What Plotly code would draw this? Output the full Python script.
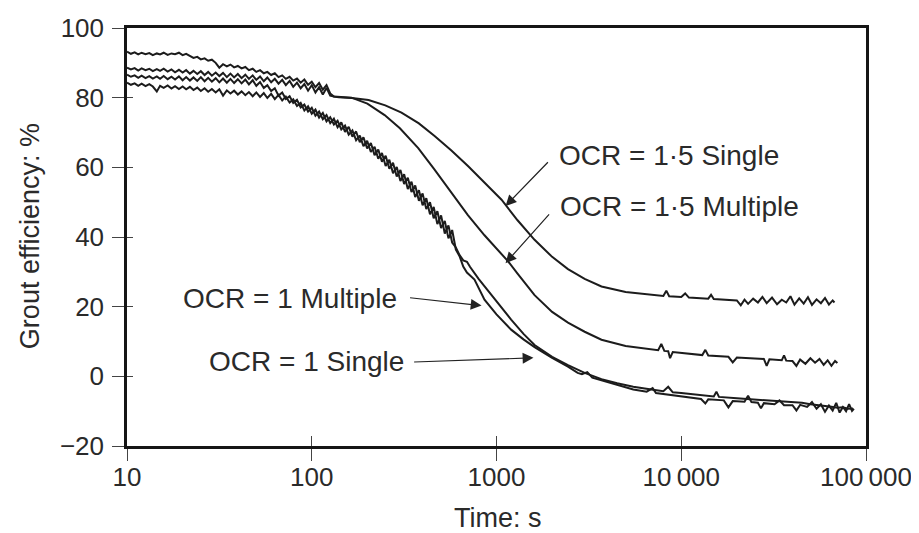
import numpy as np
import plotly.graph_objects as go

# ---- shared time grid for the noisy early part (s) ----
T_EARLY = [10, 10.5, 11, 11.5, 12, 12.6, 13.2, 13.8, 14.5, 15.1, 15.8, 16.6, 17.4, 18.2, 19.1,
           20, 20.9, 21.9, 22.9, 24, 25.1, 26.3, 27.5, 28.8, 30.2, 31.6, 33.1, 34.7, 36.3, 38,
           39.8, 41.7, 43.7, 45.7, 47.9, 50.1, 52.5, 55, 57.5, 60.3, 63.1, 66.1, 69.2, 72.4, 75.9,
           79.4, 83.2, 87.1, 91.2, 95.5, 100, 104.7, 109.6, 114.8, 120.2, 125.9, 131.8,
           138, 144.5, 151.4, 158.5, 166, 173.8, 182, 190.5, 199.5, 208.9, 218.8, 229.1, 239.9,
           251.2, 263, 275.4, 288.4, 302, 316.2, 331.1, 346.7, 363.1, 380.2, 398.1, 416.9, 436.5,
           457.1, 478.6, 501.2, 524.8, 549.5, 575.4, 602.6, 631, 660.7, 691.8]

# ---- OCR = 1.5 Single ----
S15_EARLY = [93.2, 92.6, 93.0, 92.4, 92.9, 92.5, 92.8, 92.2, 92.7, 92.4, 92.9, 92.3, 92.7, 92.5, 92.9,
             92.2, 92.6, 92.0, 91.4, 91.7, 91.0, 91.3, 90.6, 90.9, 90.0, 88.6, 89.6, 89.0, 89.5, 88.7,
             89.1, 88.4, 88.8, 87.9, 88.3, 87.4, 87.9, 87.0, 87.4, 86.5, 87.0, 85.9, 86.4, 85.4, 86.0,
             84.9, 85.5, 84.3, 85.2, 83.7, 84.6, 83.0, 84.2, 82.3, 83.6, 81.2, 80.3]
S15_LATE_T = [140, 165, 203, 250, 306, 380, 464, 570, 703, 860, 1065, 1300, 1607, 2000, 2437, 3000,
              3700, 5000, 6890, 8000, 8300, 8600, 10000, 10500, 11000, 14000, 14500, 15000, 20000,
              21000, 22000, 23000, 24500, 26000, 27500, 29000, 31000, 33000, 35000, 37000, 39000,
              41000, 43500, 46000, 48500, 51000, 54000, 57000, 60000, 63000, 66000, 67500]
S15_LATE_V = [80.1, 79.9, 79.3, 77.8, 75.7, 72.6, 68.9, 64.8, 60.3, 55.5, 50.7, 44.8, 39.2, 34.3, 30.8,
              28.0, 25.8, 24.2, 23.4, 23.1, 24.6, 23.0, 22.8, 23.8, 22.6, 22.3, 23.4, 22.2, 21.8,
              20.4, 22.0, 20.8, 22.3, 21.2, 22.8, 21.0, 22.6, 20.7, 22.0, 21.2, 23.0, 20.6, 22.4,
              20.9, 22.7, 20.5, 22.1, 21.0, 22.5, 20.6, 21.8, 21.2]

# ---- OCR = 1.5 Multiple ----
M15_EARLY = [88.6, 88.1, 88.5, 87.8, 88.4, 87.9, 88.3, 87.6, 88.2, 87.7, 88.3, 87.5, 88.1, 87.3, 88.0,
             87.2, 87.9, 86.9, 87.7, 86.8, 87.6, 86.5, 87.4, 86.3, 87.2, 86.2, 87.1, 85.9, 86.9, 85.8,
             86.8, 85.6, 86.6, 85.4, 86.4, 85.1, 86.1, 84.7, 85.8, 84.4, 85.4, 84.0, 85.1, 83.6, 84.8,
             83.1, 84.3, 82.7, 83.9, 82.0, 83.6, 81.5, 83.0, 80.9, 82.8, 80.6, 80.3]
M15_LATE_T = [140, 164, 200, 248, 300, 377, 460, 571, 700, 861, 1000, 1156, 1300, 1607, 2000, 2437,
              3000, 3700, 5000, 6890, 7500, 7800, 8100, 8500, 8700, 9000, 10000, 12000, 13000, 13500,
              14000, 18000, 19000, 20000, 26000, 28000, 29000, 30000, 35000, 36000, 37000, 40000,
              42000, 44000, 47000, 50000, 53000, 56000, 59000, 62000, 65000, 68000, 70000]
M15_LATE_V = [80.2, 80.0, 78.3, 75.0, 71.2, 65.5, 59.5, 52.7, 46.3, 40.5, 36.6, 33.0, 29.5, 23.3, 18.5,
              15.4, 12.8, 10.5, 8.7, 7.7, 7.5, 9.3, 7.3, 7.2, 5.2, 7.0, 6.8, 6.3, 6.1, 7.6,
              6.0, 5.6, 4.0, 5.4, 5.0, 5.0, 3.0, 4.9, 4.6, 6.0, 4.5, 4.4,
              3.0, 4.8, 3.6, 5.2, 3.9, 5.0, 3.3, 4.6, 3.0, 4.4, 3.8]

# ---- OCR = 1 Multiple ----
M1_EARLY = [86.6, 86.0, 86.4, 85.7, 86.3, 85.6, 86.2, 85.5, 86.1, 85.4, 86.2, 85.3, 86.0, 85.2, 86.1,
            85.0, 85.9, 84.9, 85.8, 84.8, 85.9, 84.7, 85.7, 84.6, 85.6, 84.4, 85.5, 84.3, 85.4, 84.2,
            85.3, 84.1, 85.2, 83.8, 85.0, 83.4, 84.5, 82.8, 83.6, 81.9, 82.7, 80.6, 81.5, 79.6, 80.4,
            78.5, 79.4, 77.2, 78.0, 76.0, 77.1, 74.8, 76.0, 73.8, 75.0, 72.7, 74.0,
            71.5, 72.9, 70.2, 71.6, 68.8, 70.3, 67.2, 68.6, 65.4, 67.0, 63.5, 65.1, 61.6, 63.3,
            59.6, 61.3, 57.4, 59.2, 55.2, 57.0, 52.9, 54.8, 50.4, 52.5, 48.0, 50.0, 45.4, 47.4,
            42.6, 44.6, 39.6, 42.0, 36.4, 34.5, 31.5, 29.8]
M1_LATE_T = [760, 861, 1000, 1200, 1400, 1607, 2000, 2437, 2750, 2900, 3100, 3300, 3700, 4500, 5500,
             6500, 7000, 7300, 9000, 10000, 12800, 13500, 14000, 17000, 18000, 19000, 22000, 23000,
             24000, 26000, 27000, 28000, 32000, 34000, 36000, 40000, 42000, 44000, 48000, 51000,
             54000, 57000, 60000, 63000, 66000, 69000, 72000, 75000, 78000, 81000, 84000, 86000]
M1_LATE_V = [27.8, 22.0, 17.8, 13.4, 10.6, 8.4, 5.3, 2.8, 1.0, 0.6, 1.2, -0.4, -1.2, -2.6, -3.8,
             -4.4, -3.4, -4.8, -5.4, -5.6, -6.5, -7.8, -6.6, -6.9, -8.9, -7.1, -7.3, -5.6,
             -7.4, -7.6, -9.2, -7.7, -8.0, -6.9, -8.3, -8.3, -9.8, -8.2, -8.8, -7.4,
             -9.3, -8.0, -10.2, -8.4, -9.8, -7.6, -10.4, -8.8, -10.0, -8.0, -9.9, -9.3]

# ---- OCR = 1 Single ----
S1_EARLY = [84.3, 83.7, 84.1, 83.4, 84.0, 83.3, 83.9, 83.2, 81.8, 83.4, 82.8, 83.5, 82.6, 83.3, 82.5,
            83.2, 82.4, 83.1, 82.2, 82.9, 81.9, 82.7, 81.7, 82.5, 81.5, 82.4, 80.6, 82.1, 81.2, 82.0,
            80.9, 81.8, 80.7, 81.6, 80.4, 81.5, 80.2, 81.3, 79.9, 81.1, 79.6, 80.8, 79.2, 80.3, 78.6,
            79.5, 77.6, 78.5, 76.3, 77.5, 75.4, 76.6, 74.3, 75.6, 73.2, 74.4, 72.3,
            73.4, 70.9, 72.0, 69.4, 70.6, 67.8, 69.1, 66.1, 67.6, 64.4, 65.9, 62.5, 64.1, 60.4,
            62.2, 58.3, 60.1, 56.1, 58.0, 53.8, 55.9, 51.5, 53.4, 49.1, 51.1, 46.5, 48.6, 43.7,
            46.2, 41.0, 43.3, 38.4, 37.0, 34.8, 33.3, 32.9]
S1_LATE_T = [720, 800, 900, 1000, 1200, 1400, 1607, 2000, 2437, 3000, 3700, 4500, 5500, 6890, 8000,
             8500, 9000, 10000, 12000, 15000, 15500, 16000, 20000, 25000, 30000, 37700, 45000,
             50000, 55000, 60000, 65000, 70000, 75000, 80000, 85000]
S1_LATE_V = [31.4, 28.0, 24.6, 21.4, 16.3, 12.2, 9.0, 5.6, 3.2, 1.0, -0.8, -2.0, -3.0, -3.8, -4.3,
             -3.0, -4.6, -4.8, -5.2, -5.8, -4.4, -5.9, -6.3, -6.6, -6.9, -7.2, -7.6,
             -8.0, -8.2, -8.4, -8.7, -9.0, -8.9, -9.3, -9.2]

X_TICKS = [10, 100, 1000, 10000, 100000]
X_TICK_TEXT = ["10", "100", "1000", "10\u2009000", "100\u2009000"]
Y_TICKS = [-20, 0, 20, 40, 60, 80, 100]
Y_TICK_TEXT = ["\u221220", "0", "20", "40", "60", "80", "100"]
X_TITLE = "Time: s"
Y_TITLE = "Grout efficiency: %"

N15 = 57
series = [
    ("OCR = 1·5 Single", T_EARLY[:N15] + S15_LATE_T, S15_EARLY + S15_LATE_V),
    ("OCR = 1·5 Multiple", T_EARLY[:N15] + M15_LATE_T, M15_EARLY + M15_LATE_V),
    ("OCR = 1 Multiple", T_EARLY + M1_LATE_T, M1_EARLY + M1_LATE_V),
    ("OCR = 1 Single", T_EARLY + S1_LATE_T, S1_EARLY + S1_LATE_V),
]

LINE = "#1c1c1c"
FONT = "Liberation Sans, Arial, sans-serif"
TXT = "#2a2a2a"

fig = go.Figure()
for name, xs, ys in series:
    fig.add_trace(go.Scatter(x=xs, y=ys, mode="lines", name=name,
                             line=dict(color=LINE, width=2), showlegend=False))
# helper invisible trace for the overlay axes (inside tick marks)
fig.add_trace(go.Scatter(x=[X_TICKS[0]], y=[Y_TICKS[0]], xaxis="x2", yaxis="y2",
                         mode="markers", marker=dict(opacity=0), showlegend=False,
                         hoverinfo="skip"))

# annotations: (label, text anchor t, text anchor v, xanchor, tail t, tail v, tip t, tip v)
labels = [
    ("OCR = 1·5 Single", 10**3.33, 63.4, "left", 10**3.286, 61.9, 10**3.049, 48.9),
    ("OCR = 1·5 Multiple", 10**3.335, 48.9, "left", 10**3.292, 46.9, 10**3.049, 32.5),
    ("OCR = 1 Multiple", 10**2.47, 22.3, "right", 10**2.524, 22.6, 10**2.919, 20.3),
    ("OCR = 1 Single", 10**2.508, 4.4, "right", 10**2.546, 4.1, 10**3.2, 5.3),
]
for text, tx, ty, xa, ax_, ay_, px_, py_ in labels:
    fig.add_annotation(x=np.log10(tx), y=ty, text=text, showarrow=False, xanchor=xa,
                       yanchor="middle", font=dict(family=FONT, size=28, color=TXT))
    fig.add_annotation(x=np.log10(px_), y=py_, ax=np.log10(ax_), ay=ay_, axref="x", ayref="y",
                       text="", showarrow=True, arrowhead=2, arrowsize=1.8, arrowwidth=1.2,
                       arrowcolor="#222")

# axis titles as paper-positioned texts
fig.add_annotation(xref="paper", yref="paper", x=0.502, y=-0.172, text=X_TITLE,
                   showarrow=False, xanchor="center", yanchor="middle",
                   font=dict(family=FONT, size=27, color=TXT))
fig.add_annotation(xref="paper", yref="paper", x=-0.1313, y=0.502, text=Y_TITLE,
                   textangle=-90, showarrow=False, xanchor="center", yanchor="middle",
                   font=dict(family=FONT, size=27, color=TXT))

fig.update_layout(
    width=903, height=525,
    margin=dict(l=119, r=45, t=20, b=87),
    paper_bgcolor="white", plot_bgcolor="white",
    font=dict(family=FONT, size=26, color=TXT),
    xaxis=dict(type="log", range=[1, 5], tickvals=X_TICKS, ticktext=X_TICK_TEXT,
               ticks="outside", ticklen=12, tickwidth=1, tickcolor="#444",
               showline=True, linewidth=3, linecolor="#151515", mirror=True,
               showgrid=False, zeroline=False, ticklabelstandoff=-6,
               ticklabeloverflow="allow", automargin=False,
               tickfont=dict(size=26)),
    yaxis=dict(range=[-20, 100], tickvals=Y_TICKS, ticktext=Y_TICK_TEXT,
               ticks="outside", ticklen=12, tickwidth=1, tickcolor="#444",
               showline=True, linewidth=2.5, linecolor="#151515", mirror=True,
               showgrid=False, zeroline=False, ticklabelstandoff=3,
               ticklabeloverflow="allow", automargin=False,
               tickfont=dict(size=26)),
    xaxis2=dict(type="log", range=[1, 5], tickvals=X_TICKS, showticklabels=False,
                overlaying="x", anchor="y", side="bottom", ticks="inside", ticklen=10,
                tickwidth=1, tickcolor="#444", showgrid=False, zeroline=False, showline=False,
                automargin=False),
    yaxis2=dict(range=[-20, 100], tickvals=Y_TICKS, showticklabels=False,
                overlaying="y", anchor="x", side="left", ticks="inside", ticklen=6,
                tickwidth=1, tickcolor="#444", showgrid=False, zeroline=False, showline=False,
                automargin=False),
)

fig.write_html("out.html")
